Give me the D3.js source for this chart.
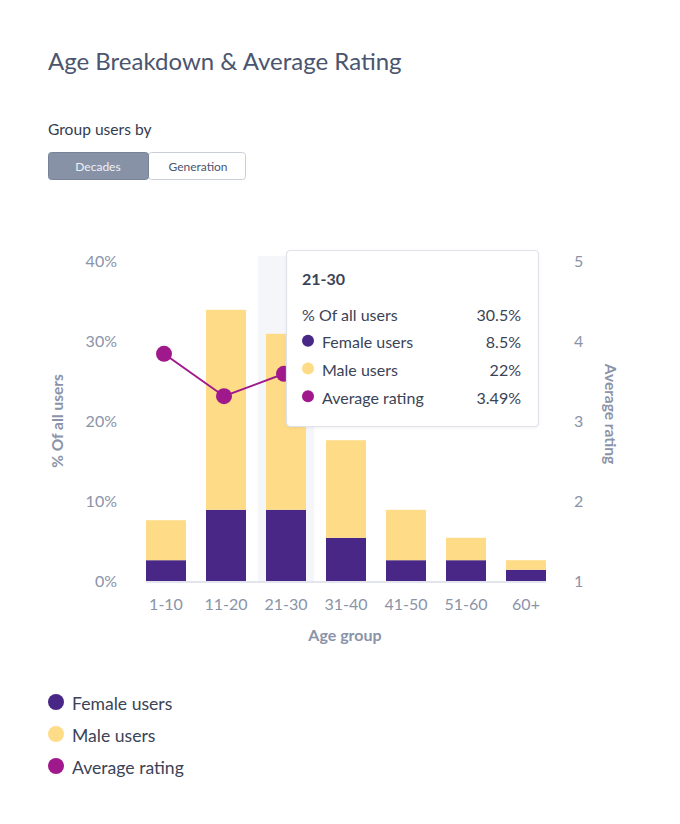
<!DOCTYPE html>
<html>
<head>
<meta charset="utf-8">
<script src="https://cdn.jsdelivr.net/npm/d3@7"></script>
<style>
  html, body { margin: 0; padding: 0; background: #fff; }
  svg { display: block; font-family: Lato, "Noto Sans", sans-serif; }
</style>
</head>
<body>
<svg id="chart" width="680" height="824"></svg>
<script>
// ---- data ----
const categories = ["1-10", "11-20", "21-30", "31-40", "41-50", "51-60", "60+"];
const femaleValues = [2.6, 8.9, 8.9, 5.4, 2.6, 2.6, 1.4];
const maleValues = [5.0, 25.0, 22.0, 12.2, 6.3, 2.8, 1.2];
const ratingValues = [3.84, 3.31, 3.59, 3.75, 3.9, 4.05, 4.25];
const leftTicks = [0, 10, 20, 30, 40];
const rightTicks = [1, 2, 3, 4, 5];
const seriesNames = ["Female users", "Male users", "Average rating"];
const tooltipRows = [
  { label: "% Of all users", value: "30.5%", dot: null },
  { label: "Female users", value: "8.5%", dot: 0 },
  { label: "Male users", value: "22%", dot: 1 },
  { label: "Average rating", value: "3.49%", dot: 2 }
];
const highlighted = "21-30";

const colors = ["#482786", "#fedb87", "#a0198c"];
const axisText = "#8a93a8";
const darkText = "#3b4357";

const svg = d3.select("#chart");

// title & controls
svg.append("text").attr("x", 48).attr("y", 70).attr("font-size", 24)
  .attr("fill", "#4b556f").text("Age Breakdown & Average Rating");
svg.append("text").attr("x", 48).attr("y", 135).attr("font-size", 15.6)
  .attr("fill", "#343b4f").text("Group users by");

const btn = svg.append("g");
btn.append("rect").attr("x", 148.5).attr("y", 152.5).attr("width", 97).attr("height", 27)
  .attr("rx", 3).attr("fill", "#fff").attr("stroke", "#c9ced9");
btn.append("rect").attr("x", 48.5).attr("y", 152.5).attr("width", 100).attr("height", 27)
  .attr("rx", 3).attr("fill", "#8792a6").attr("stroke", "#78839a");
btn.append("text").attr("x", 98).attr("y", 170.5).attr("text-anchor", "middle")
  .attr("font-size", 12).attr("fill", "#eef1f6").text("Decades");
btn.append("text").attr("x", 198).attr("y", 170.5).attr("text-anchor", "middle")
  .attr("font-size", 12).attr("fill", "#4b556f").text("Generation");

// scales
const x = d3.scaleBand().domain(categories).range([146, 546]).paddingInner(1/3).paddingOuter(0);
const y = d3.scaleLinear().domain([0, 40]).range([581, 261]);
const yR = d3.scaleLinear().domain([1, 5]).range([581, 261]);

// highlight band
const hx = x(highlighted);
svg.append("rect").attr("x", hx - 8).attr("y", 256).attr("width", x.bandwidth() + 16)
  .attr("height", 581 - 256).attr("fill", "#f5f6fa");

// left axis labels
const yAxis = d3.axisLeft(y).tickValues(leftTicks).tickFormat(d => d + "%").tickSize(0).tickPadding(0);
const gy = svg.append("g").attr("transform", "translate(117,0)").call(yAxis);
gy.select(".domain").remove();
gy.selectAll("text").attr("font-size", 16).attr("fill", axisText).attr("font-family", "Lato");

const yAxisR = d3.axisRight(yR).tickValues(rightTicks).tickFormat(d3.format("d")).tickSize(0).tickPadding(0);
const gyr = svg.append("g").attr("transform", "translate(574,0)").call(yAxisR);
gyr.select(".domain").remove();
gyr.selectAll("text").attr("font-size", 16).attr("fill", axisText).attr("font-family", "Lato");

svg.append("text").attr("transform", "translate(63,421) rotate(-90)")
  .attr("text-anchor", "middle").attr("font-size", 15.5).attr("font-weight", "bold")
  .attr("fill", axisText).text("% Of all users");
svg.append("text").attr("transform", "translate(605,414) rotate(90)")
  .attr("text-anchor", "middle").attr("font-size", 15.5).attr("font-weight", "bold")
  .attr("fill", axisText).text("Average rating");

// stacked bars
const rows = categories.map((c, i) => ({ cat: c, female: femaleValues[i], male: maleValues[i] }));
const stacked = d3.stack().keys(["female", "male"])(rows);
svg.append("g").selectAll("g").data(stacked).join("g")
  .attr("fill", (d, i) => colors[i])
  .selectAll("rect").data(d => d).join("rect")
  .attr("x", d => x(d.data.cat))
  .attr("y", d => y(d[1]))
  .attr("width", x.bandwidth())
  .attr("height", d => y(d[0]) - y(d[1]) + (d[0] === 0 ? 1 : 0));

// x axis
const xAxis = d3.axisBottom(x).tickSize(0).tickPadding(16.5);
const gx = svg.append("g").attr("transform", "translate(0,582)").call(xAxis);
gx.select(".domain").attr("stroke", "#e2e5ed").attr("stroke-width", 2)
  .attr("d", "M146,0H546");
gx.selectAll("text").attr("font-size", 16).attr("fill", axisText).attr("font-family", "Lato");
svg.append("text").attr("x", 345).attr("y", 641).attr("text-anchor", "middle")
  .attr("font-size", 16).attr("font-weight", "bold").attr("fill", axisText).text("Age group");

// rating line
const line = d3.line().x((d, i) => x(categories[i]) + x.bandwidth() / 2 - 2).y(d => yR(d));
svg.append("path").datum(ratingValues).attr("d", line).attr("fill", "none")
  .attr("stroke", colors[2]).attr("stroke-width", 2);
svg.append("g").selectAll("circle").data(ratingValues).join("circle")
  .attr("cx", (d, i) => x(categories[i]) + x.bandwidth() / 2 - 2)
  .attr("cy", d => yR(d)).attr("r", 8).attr("fill", colors[2]);

// tooltip
const defs = svg.append("defs");
const f = defs.append("filter").attr("id", "sh").attr("x", "-10%").attr("y", "-10%").attr("width", "120%").attr("height", "120%");
f.append("feDropShadow").attr("dx", 0).attr("dy", 1).attr("stdDeviation", 1.5).attr("flood-color", "#000").attr("flood-opacity", 0.06);
const tt = svg.append("g").attr("transform", "translate(286,250)");
tt.append("rect").attr("x", 0.5).attr("y", 0.5).attr("width", 252).attr("height", 176).attr("rx", 4)
  .attr("fill", "#fff").attr("stroke", "#dfe2ea").attr("stroke-width", 1.2).attr("filter", "url(#sh)");
tt.append("text").attr("x", 16).attr("y", 34.5).attr("font-size", 16).attr("font-weight", "bold")
  .attr("fill", darkText).text(highlighted);
tooltipRows.forEach((r, i) => {
  const base = 70.5 + i * 27.8;
  if (r.dot !== null) {
    tt.append("circle").attr("cx", 22).attr("cy", base - 7.6).attr("r", 6).attr("fill", colors[r.dot]);
  }
  tt.append("text").attr("x", r.dot === null ? 16 : 36).attr("y", base)
    .attr("font-size", 16).attr("fill", darkText).text(r.label);
  tt.append("text").attr("x", 235).attr("y", base).attr("text-anchor", "end")
    .attr("font-size", 16).attr("fill", darkText).text(r.value);
});

// legend
const lg = svg.append("g");
seriesNames.forEach((n, i) => {
  const cy = 702 + i * 32;
  lg.append("circle").attr("cx", 56).attr("cy", cy).attr("r", 8).attr("fill", colors[i]);
  lg.append("text").attr("x", 72).attr("y", cy + 8).attr("font-size", 17.6)
    .attr("fill", darkText).text(n);
});
</script>
</body>
</html>
